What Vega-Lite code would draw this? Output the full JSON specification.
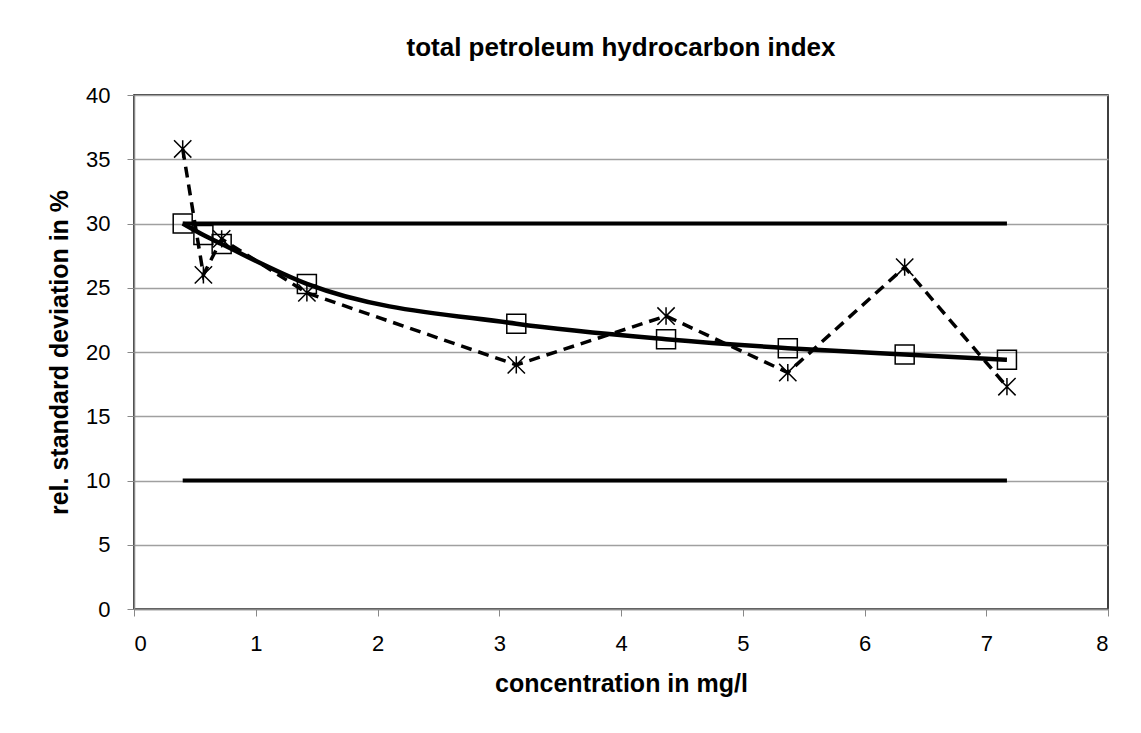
{
  "$schema": "https://vega.github.io/schema/vega-lite/v6.json",
  "autosize": "none",
  "width": 974,
  "height": 514,
  "padding": {"left": 134, "top": 95, "right": 33, "bottom": 124},
  "background": "white",
  "title": {"text": "total petroleum hydrocarbon index", "font": "Liberation Sans", "fontSize": 26, "fontWeight": "bold", "color": "black", "anchor": "middle", "offset": 23},
  "datasets": {
    "pts": [
      {"conc": 0.40, "measured": 35.8, "model": 30.0},
      {"conc": 0.57, "measured": 26.0, "model": 29.1},
      {"conc": 0.72, "measured": 28.8, "model": 28.4},
      {"conc": 1.42, "measured": 24.6, "model": 25.3},
      {"conc": 3.14, "measured": 19.0, "model": 22.2},
      {"conc": 4.37, "measured": 22.8, "model": 21.0},
      {"conc": 5.37, "measured": 18.4, "model": 20.3},
      {"conc": 6.33, "measured": 26.6, "model": 19.8},
      {"conc": 7.17, "measured": 17.3, "model": 19.4}
    ],
    "limits": [
      {"start": 0.40, "end": 7.17, "limit": 30},
      {"start": 0.40, "end": 7.17, "limit": 10}
    ]
  },
  "config": {
    "view": {"stroke": "black", "strokeWidth": 1.5},
    "axis": {
      "labelFont": "Liberation Sans", "labelFontSize": 22, "labelColor": "black",
      "titleFont": "Liberation Sans", "titleFontSize": 25, "titleFontWeight": "bold", "titleColor": "black",
      "domainColor": "#888888", "domainWidth": 1.5, "tickColor": "#888888", "tickSize": 7, "tickWidth": 1
    }
  },
  "layer": [
    {
      "data": {"name": "limits"},
      "mark": {"type": "rule", "color": "black", "strokeWidth": 4},
      "encoding": {
        "x": {"field": "start", "type": "quantitative", "scale": {"domain": [0, 8]}, "axis": {"title": "concentration in mg/l", "values": [0,1,2,3,4,5,6,7,8], "format": "d", "grid": false, "labelPadding": 17, "titlePadding": 17}},
        "x2": {"field": "end"},
        "y": {"field": "limit", "type": "quantitative", "scale": {"domain": [0, 40]}, "axis": {"title": "rel. standard deviation in %", "values": [0,5,10,15,20,25,30,35,40], "format": "d", "grid": true, "gridColor": "#a0a0a0", "gridWidth": 1.5, "labelPadding": 17, "titlePadding": 13}}
      }
    },
    {
      "data": {"name": "pts"},
      "mark": {"type": "line", "color": "black", "strokeWidth": 3.5, "strokeDash": [11, 7]},
      "encoding": {
        "x": {"field": "conc", "type": "quantitative"},
        "y": {"field": "measured", "type": "quantitative"}
      }
    },
    {
      "data": {"name": "pts"},
      "mark": {"type": "line", "color": "black", "strokeWidth": 4.5, "interpolate": "monotone"},
      "encoding": {
        "x": {"field": "conc", "type": "quantitative"},
        "y": {"field": "model", "type": "quantitative"}
      }
    },
    {
      "data": {"name": "pts"},
      "mark": {"type": "point", "shape": "M-1,-1L1,1M-1,1L1,-1M0,-1L0,1", "size": 300, "stroke": "black", "strokeWidth": 1.5, "filled": false, "opacity": 1},
      "encoding": {
        "x": {"field": "conc", "type": "quantitative"},
        "y": {"field": "measured", "type": "quantitative"}
      }
    },
    {
      "data": {"name": "pts"},
      "mark": {"type": "point", "shape": "square", "size": 361, "stroke": "black", "strokeWidth": 1.5, "filled": false, "opacity": 1},
      "encoding": {
        "x": {"field": "conc", "type": "quantitative"},
        "y": {"field": "model", "type": "quantitative"}
      }
    }
  ]
}
